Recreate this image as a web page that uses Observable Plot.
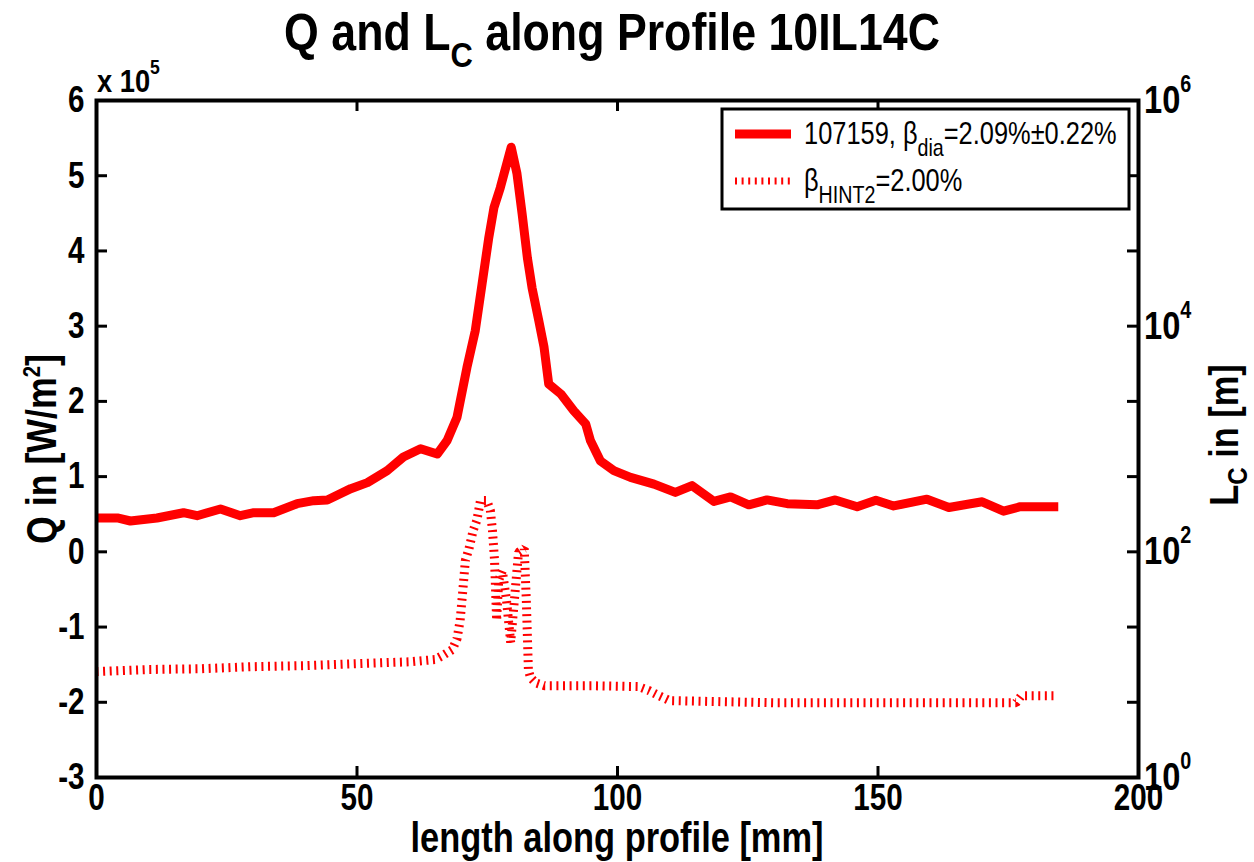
<!DOCTYPE html>
<html><head><meta charset="utf-8">
<script src="https://cdn.jsdelivr.net/npm/d3@7"></script>
<script src="https://cdn.jsdelivr.net/npm/@observablehq/plot@0.6"></script>
<style>
html,body{margin:0;padding:0;background:#fff;}
#chart{position:relative;width:1254px;height:862px;}
svg text{font-family:"Liberation Sans",Arial,Helvetica,sans-serif;}
</style></head><body><div id="chart"></div>
<script>
// ---- data ----
const qX = [0, 4, 6.5, 11.6, 16.7, 19.3, 23.8, 27.6, 30.2, 34, 38.5, 41.7, 44.3, 48.8, 52, 55.8, 58.9, 62.2, 65.4, 67.3, 69.2, 71.1, 72.7, 74.0, 75.3, 76.3, 77.5, 79.6, 80.7, 81.7, 82.7, 83.6, 84.9, 85.9, 86.8, 89.1, 91.6, 93.9, 94.8, 96.7, 99.3, 102.5, 107.0, 111.1, 114.3, 118.5, 121.7, 125.2, 128.7, 132.6, 138.3, 141.8, 146.0, 149.6, 153.0, 159.4, 163.6, 170.0, 174.1, 177.3, 184.6];
const qVal = [0.45, 0.45, 0.41, 0.45, 0.52, 0.48, 0.57, 0.48, 0.52, 0.52, 0.64, 0.68, 0.69, 0.84, 0.92, 1.08, 1.26, 1.37, 1.30, 1.48, 1.79, 2.45, 2.94, 3.56, 4.18, 4.58, 4.84, 5.38, 5.03, 4.49, 3.91, 3.51, 3.07, 2.72, 2.23, 2.10, 1.875, 1.70, 1.48, 1.21, 1.08, 0.99, 0.90, 0.79, 0.88, 0.67, 0.73, 0.625, 0.69, 0.64, 0.625, 0.69, 0.60, 0.685, 0.61, 0.70, 0.59, 0.665, 0.54, 0.60, 0.60];
const lcX = [0, 10, 20, 30, 40, 50, 55, 60, 65, 66.5, 68.3, 69.2, 69.8, 70.3, 70.8, 71.5, 72.3, 73.0, 73.7, 74.9, 75.6, 76.0, 76.4, 76.8, 77.2, 77.9, 78.7, 79.5, 80.2, 81.0, 82.1, 82.5, 82.9, 83.3, 84.3, 86, 95, 104, 106, 108, 110, 130, 150, 170, 176.5, 177.5, 184];
const lcVal = [8.7, 9.06, 9.2, 9.6, 9.8, 10.2, 10.4, 10.6, 11.1, 12.1, 13.6, 17.0, 24.7, 45, 84, 107, 155, 190, 285, 285, 232, 155, 84, 24.7, 56, 68, 37, 15.7, 37, 99, 107, 37, 8.9, 7.7, 6.9, 6.5, 6.5, 6.4, 5.9, 5.3, 4.8, 4.6, 4.6, 4.6, 4.6, 5.3, 5.3];
const xTicks = [0, 50, 100, 150, 200];
const qTicks = [-3, -2, -1, 0, 1, 2, 3, 4, 5, 6];
const lcLabelExps = [0, 2, 4, 6];
const legendLabels = ["107159, β|dia|=2.09%±0.22%", "β|HINT2|=2.00%"];

// ---- layout ----
const W = 1254, H = 862, mt = 100, mb = 85, ml = 96, mr = 116;
const fw = W - ml - mr, fh = H - mt - mb;
const qDomain = [-3, 6], lcDecades = [0, 6];
const lcToQ = v => qDomain[0] + (Math.log10(v) - lcDecades[0]) * (qDomain[1] - qDomain[0]) / (lcDecades[1] - lcDecades[0]);

const qData = qX.map((x, i) => ({x, q: qVal[i]}));
const lcData = lcX.map((x, i) => ({x, lc: lcVal[i]}));
const RED = "#ff0000";

const plot = Plot.plot({
  width: W, height: H, marginTop: mt, marginBottom: mb, marginLeft: ml, marginRight: mr,
  style: {background: "white", overflow: "visible"},
  x: {domain: [0, 200]},
  y: {domain: qDomain},
  marks: [
    Plot.line(lcData, {x: "x", y: d => lcToQ(d.lc), stroke: RED, strokeWidth: 9, strokeDasharray: "2,4.6", strokeLinecap: "butt", strokeLinejoin: "miter"}),
    Plot.line(qData, {x: "x", y: "q", stroke: RED, strokeWidth: 9, strokeLinejoin: "round", strokeLinecap: "butt"}),
    Plot.tickX(xTicks, {x: d => d, insetTop: fh - 11, stroke: "black", strokeWidth: 3}),
    Plot.tickX(xTicks, {x: d => d, insetBottom: fh - 11, stroke: "black", strokeWidth: 3}),
    Plot.tickY(qTicks, {y: d => d, insetRight: fw - 11, stroke: "black", strokeWidth: 3}),
    Plot.tickY(qTicks, {y: d => d, insetLeft: fw - 11, stroke: "black", strokeWidth: 3}),
    Plot.frame({stroke: "black", strokeWidth: 4}),
    Plot.axisX({ticks: xTicks, tickSize: 0, tickPadding: 6, fontSize: 37, fontWeight: "bold", label: null, tickFormat: d => String(d)}),
    Plot.axisY({ticks: qTicks, tickSize: 0, tickPadding: 12, fontSize: 37, fontWeight: "bold", label: null, tickFormat: d => String(d)})
  ]
});
document.getElementById("chart").appendChild(plot);

const svg = d3.select(plot);
const ys = plot.scale("y");
svg.selectAll('g[aria-label="x-axis tick label"] text, g[aria-label="y-axis tick label"] text')
  .style("font-weight", "bold").style("font-size", "37px")
  .each(function () {
    const tr = this.getAttribute("transform") || "";
    this.setAttribute("transform", (tr + " scale(0.8,1)").trim());
  });

// rich text helper with sub/superscripts, condensed horizontally
function rich(g, x, y, parts, opts) {
  const rot = opts.rotate ? ` rotate(${opts.rotate})` : "";
  const t = g.append("text").attr("x", 0).attr("y", 0)
    .attr("transform", `translate(${x},${y})${rot} scale(${opts.sx},1)`)
    .attr("font-size", opts.size).attr("font-weight", opts.weight || "normal")
    .attr("text-anchor", opts.anchor || "start").attr("fill", "black");
  let shift = 0;
  parts.forEach(p => {
    const [txt, kind] = p;
    let target = 0, size = opts.size;
    if (kind === "sub") { target = opts.subShift; size = opts.subSize; }
    if (kind === "sup") { target = -opts.supShift; size = opts.subSize; }
    t.append("tspan").attr("dy", target - shift).attr("font-size", size).text(txt);
    shift = target;
  });
  return t;
}

const ann = svg.append("g");
// title
rich(ann, 612, 50, [["Q and L"], ["C", "sub"], [" along Profile 10IL14C"]],
  {size: 52, sx: 0.86, weight: "bold", anchor: "middle", subSize: 36, subShift: 17});
// x label
rich(ann, ml + fw / 2, 852, [["length along profile [mm]"]], {size: 42, sx: 0.82, weight: "bold", anchor: "middle"});
// left y label
rich(ann, 56, 449, [["Q in [W/m"], ["2", "sup"], ["]"]],
  {size: 42, sx: 0.85, weight: "bold", anchor: "middle", subSize: 24, supShift: 16, rotate: -90});
// right y label
rich(ann, 1238, 435, [["L"], ["C", "sub"], [" in [m]"]],
  {size: 40, sx: 0.86, weight: "bold", anchor: "middle", subSize: 28, subShift: 9, rotate: -90});
// x 10^5 multiplier
rich(ann, 97, 92, [["x 10"], ["5", "sup"]], {size: 31, sx: 0.88, weight: "bold", subSize: 20, supShift: 18});
// right log axis labels
lcLabelExps.forEach(e => {
  const yq = ys.apply(lcToQ(Math.pow(10, e)));
  rich(ann, ml + fw + 6, yq + 13, [["10"], [String(e), "sup"]], {size: 38, sx: 0.86, weight: "bold", subSize: 23, supShift: 21});
});

// legend
const lg = svg.append("g");
lg.append("rect").attr("x", 722).attr("y", 109).attr("width", 407).attr("height", 100)
  .attr("fill", "white").attr("stroke", "black").attr("stroke-width", 3);
const rows = [{y: 134, dash: null}, {y: 181, dash: "2,4.6"}];
legendLabels.forEach((lab, i) => {
  const r = rows[i];
  const ln = lg.append("line").attr("x1", 735).attr("x2", 791).attr("y1", r.y).attr("y2", r.y)
    .attr("stroke", RED).attr("stroke-width", i === 0 ? 9 : 7);
  if (r.dash) ln.attr("stroke-dasharray", r.dash);
  const segs = lab.split("|").map((s, k) => [s, k % 2 === 1 ? "sub" : null]);
  rich(lg, 804, r.y + 10, segs, {size: 31, sx: 0.82, subSize: 24, subShift: 12});
});
</script></body></html>
